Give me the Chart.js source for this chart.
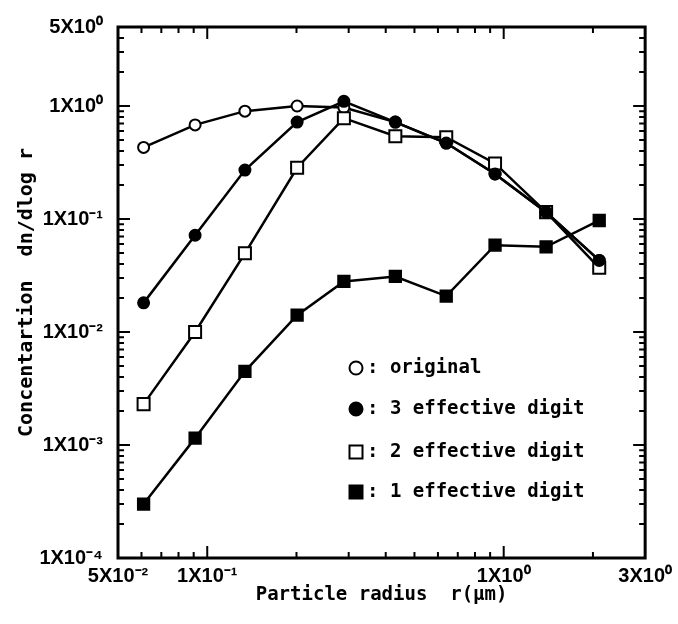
<!DOCTYPE html>
<html lang="en">
<head>
<meta charset="utf-8" />
<title>Concentration vs particle radius</title>
<style>
    body { margin: 0; background: #fff; }
    #wrap { width: 678px; height: 624px; }
</style>
</head>
<body>
<div id="wrap"><canvas id="chart" width="678" height="624"></canvas></div>
<script src="https://cdn.jsdelivr.net/npm/chart.js@4.4.1/dist/chart.umd.min.js"></script>
<script>
    // particle radius r (um)
    const radius = [0.061, 0.091, 0.134, 0.201, 0.289, 0.431, 0.64, 0.935, 1.39, 2.1];
    // dn/dlog r
    const original = [0.43, 0.68, 0.90, 1.0, 0.97, 0.72, 0.47, 0.25, 0.115, 0.043];
    const digit3 = [0.0181, 0.0718, 0.271, 0.72, 1.10, 0.72, 0.47, 0.25, 0.115, 0.043];
    const digit2 = [0.0023, 0.0100, 0.0497, 0.284, 0.78, 0.54, 0.53, 0.31, 0.115, 0.037];
    const digit1 = [0.0003, 0.00115, 0.00449, 0.0141, 0.028, 0.031, 0.0208, 0.0586, 0.0567, 0.097];

    const xTickValues = [0.05, 0.1, 1, 3];
    const xTickLabels = ['5X10⁻²', '1X10⁻¹', '1X10⁰', '3X10⁰'];
    const yTickValues = [1e-4, 1e-3, 1e-2, 1e-1, 1, 5];
    const yTickLabels = ['1X10⁻⁴', '1X10⁻³', '1X10⁻²', '1X10⁻¹', '1X10⁰', '5X10⁰'];

    const legendLabels = [': original', ': 3 effective digit', ': 2 effective digit', ': 1 effective digit'];

    const toPoints = (ys) => radius.map((x, i) => ({ x: x, y: ys[i] }));

    function series(label, ys, style, fill, r, order) {
        return {
            label: label,
            data: toPoints(ys),
            borderColor: '#000',
            borderWidth: 2.5,
            pointStyle: style,
            pointRadius: r,
            pointBorderWidth: 2,
            pointBorderColor: '#000',
            pointBackgroundColor: fill,
            tension: 0,
            fill: false,
            order: order,
        };
    }

    const tickFont = { family: '"Liberation Sans Narrow", "Liberation Sans", sans-serif', size: 20, weight: 'bold' };

    // frame, inward log ticks on all sides, and the boxed legend
    const frameTicks = {
        id: 'frameTicks',
        afterDraw(chart) {
            const ctx = chart.ctx;
            const a = chart.chartArea;
            const xs = chart.scales.x, ys = chart.scales.y;
            ctx.save();
            ctx.strokeStyle = '#000';
            ctx.lineWidth = 2;
            for (let d = -5; d <= 1; d++) {
                for (let m = 1; m <= 9; m++) {
                    const v = m * Math.pow(10, d);
                    const len = m === 1 ? 12 : 6;
                    if (v > xs.min * 1.001 && v < xs.max * 0.999) {
                        const px = xs.getPixelForValue(v);
                        ctx.beginPath();
                        ctx.moveTo(px, a.bottom); ctx.lineTo(px, a.bottom - len);
                        ctx.moveTo(px, a.top); ctx.lineTo(px, a.top + len);
                        ctx.stroke();
                    }
                    if (v > ys.min * 1.001 && v < ys.max * 0.999) {
                        const py = ys.getPixelForValue(v);
                        ctx.beginPath();
                        ctx.moveTo(a.left, py); ctx.lineTo(a.left + len, py);
                        ctx.moveTo(a.right, py); ctx.lineTo(a.right - len, py);
                        ctx.stroke();
                    }
                }
            }
            ctx.lineWidth = 3;
            ctx.strokeRect(a.left, a.top, a.right - a.left, a.bottom - a.top);

            // legend
            const rows = [368, 409, 452, 492];
            ctx.font = 'bold 19px "DejaVu Sans Mono", monospace';
            ctx.textBaseline = 'middle';
            chart.data.datasets.forEach((ds, i) => {
                const y = rows[i];
                const x = 356;
                ctx.lineWidth = 2;
                ctx.fillStyle = ds.pointBackgroundColor;
                ctx.beginPath();
                if (ds.pointStyle === 'circle') {
                    ctx.arc(x, y, 6.5, 0, Math.PI * 2);
                } else {
                    ctx.rect(x - 6.5, y - 6.5, 13, 13);
                }
                ctx.fill();
                ctx.stroke();
                ctx.fillStyle = '#000';
                ctx.fillText(legendLabels[i], 367, y);
            });
            ctx.restore();
        }
    };

    new Chart(document.getElementById('chart'), {
        type: 'line',
        data: {
            datasets: [
                series('original', original, 'circle', '#fff', 5.5, 4),
                series('3 effective digit', digit3, 'circle', '#000', 5.5, 2),
                series('2 effective digit', digit2, 'rect', '#fff', 8.5, 3),
                series('1 effective digit', digit1, 'rect', '#000', 8, 1),
            ],
        },
        options: {
            responsive: false,
            animation: false,
            layout: { padding: { left: 0, top: 21, right: 30, bottom: 0 } },
            plugins: {
                legend: { display: false },
                tooltip: { enabled: false },
            },
            scales: {
                x: {
                    type: 'logarithmic',
                    min: 0.05,
                    max: 3,
                    grid: { display: false, drawTicks: false },
                    border: { display: false },
                    afterBuildTicks: (s) => { s.ticks = xTickValues.map(v => ({ value: v })); },
                    afterFit: (s) => { s.height = 66; },
                    ticks: {
                        autoSkip: false,
                        maxRotation: 0,
                        padding: 6,
                        color: '#000',
                        font: tickFont,
                        callback: (v, i) => xTickLabels[i],
                    },
                    title: {
                        display: true,
                        text: 'Particle radius  r(μm)',
                        color: '#000',
                        padding: { top: 0, bottom: 18 },
                        font: { family: '"DejaVu Sans Mono", monospace', size: 19, weight: 'bold' },
                    },
                },
                y: {
                    type: 'logarithmic',
                    min: 1e-4,
                    max: 5,
                    grid: { display: false, drawTicks: false },
                    border: { display: false },
                    afterBuildTicks: (s) => { s.ticks = yTickValues.map(v => ({ value: v })); },
                    afterFit: (s) => { s.width = 118; },
                    ticks: {
                        autoSkip: false,
                        padding: 15,
                        color: '#000',
                        font: tickFont,
                        callback: (v, i) => yTickLabels[i],
                    },
                    title: {
                        display: true,
                        text: 'Concentartion  dn/dlog r',
                        color: '#000',
                        padding: { top: 15, bottom: 0 },
                        font: { family: '"DejaVu Sans Mono", monospace', size: 20, weight: 'bold' },
                    },
                },
            },
        },
        plugins: [frameTicks],
    });
</script>
</body>
</html>
